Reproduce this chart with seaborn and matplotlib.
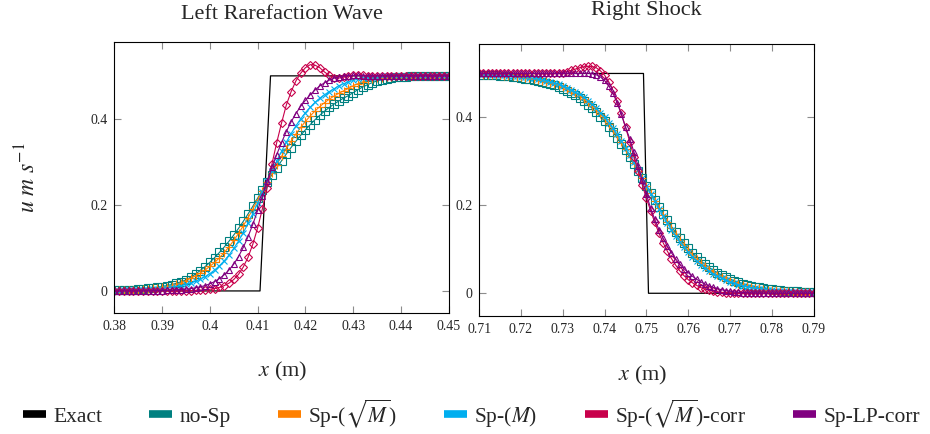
import numpy as np
import seaborn as sns
import matplotlib.pyplot as plt
from matplotlib.lines import Line2D

# grids
x_left = np.linspace(0.38, 0.45, 71)
x_right = np.linspace(0.71, 0.79, 81)

# exact solutions
left_exact_x = [0.38, 0.4105, 0.4127, 0.45]
left_exact_u = [0.0, 0.0, 0.5, 0.5]
right_exact_x = [0.71, 0.7493, 0.7505, 0.79]
right_exact_u = [0.5, 0.5, 0.0, 0.0]

# left rarefaction wave
left_nosp = [
    .0015, .0018, .0022, .0027, .0033, .0040, .0048, .0058, .0070, .0085,
    .0102, .0123, .0148, .0178, .0214, .0256, .0320, .0395, .0475, .0565,
    .0665, .0775, .0895, .1020, .1155, .1300, .1454, .1618, .1790, .1970,
    .2157, .2346, .2533, .2700, .2864, .3025, .3182, .3334, .3478, .3616,
    .3745, .3866, .3979, .4083, .4179, .4266, .4345, .4416, .4483, .4540,
    .4610, .4680, .4740, .4795, .4843, .4882, .4912, .4936, .4954, .4967,
    .4977, .4984, .4989, .4993, .4995, .4997, .4998, .4998, .4999, .4999, .4999]
left_sqrtm = [
    .0012, .0015, .0018, .0022, .0027, .0033, .0040, .0048, .0058, .0070,
    .0085, .0103, .0125, .0152, .0185, .0240, .0295, .0354, .0416, .0486,
    .0570, .0662, .0770, .0889, .1025, .1173, .1337, .1513, .1703, .1903,
    .2112, .2326, .2540, .2739, .2936, .3126, .3310, .3484, .3647, .3800,
    .3940, .4067, .4182, .4286, .4378, .4458, .4532, .4596, .4652, .4710,
    .4770, .4820, .4862, .4895, .4922, .4943, .4960, .4972, .4980, .4986,
    .4990, .4993, .4995, .4996, .4997, .4998, .4998, .4999, .4999, .4999, .4999]
left_m = [
    .0007, .0009, .0011, .0013, .0016, .0020, .0024, .0030, .0037, .0045,
    .0055, .0068, .0083, .0100, .0123, .0150, .0184, .0224, .0273, .0333,
    .0403, .0487, .0586, .0700, .0834, .0988, .1161, .1354, .1568, .1798,
    .2041, .2294, .2548, .2787, .3021, .3246, .3459, .3656, .3837, .3999,
    .4145, .4272, .4384, .4480, .4563, .4635, .4700, .4770, .4820, .4860,
    .4895, .4923, .4945, .4962, .4974, .4982, .4988, .4992, .4994, .4996,
    .4997, .4998, .4998, .4999, .4999, .4999, .5, .5, .5, .5, .5]
left_sqrtm_corr = [0.0] * 10 + [
    .0001, .0001, .0001, .0002, .0004, .0005, .0008, .0011, .0017, .0025,
    .0038, .0056, .0083, .0123, .0181, .0266, .0386, .0556, .0786, .1088,
    .1466, .1911, .2400, .295, .345, .390, .432, .463, .488, .506,
    .519, .526, .525, .519, .509, .501, .496, .495, .497, .4995,
    .501, .5015, .501] + [0.5] * 18
left_lp_corr = [
    .0001, .0001, .0001, .0001, .0002, .0002, .0003, .0004, .0005, .0007,
    .0010, .0013, .0017, .0023, .0031, .0041, .0054, .0072, .0095, .0125,
    .0165, .0218, .0287, .0375, .0486, .0622, .0800, .1012, .1262, .1550,
    .1871, .2216, .2562, .2872, .3171, .3450, .3704, .3929, .4124, .4290,
    .4431, .4560, .4670, .4765, .4840, .4900, .4945, .4978, .4998, .5008,
    .5010, .5010, .5005] + [0.5] * 18

# right shock
right_nosp = [
    .4973, .4970, .4966, .4960, .4955, .4948, .4942, .4932, .4925, .4913,
    .4899, .4885, .4873, .4855, .4835, .4815, .4790, .4758, .4730, .4688,
    .4654, .4605, .4547, .4501, .4435, .4368, .4291, .4209, .4118, .4016,
    .3909, .3792, .3669, .3536, .3396, .3249, .3096, .2940, .2779, .2615,
    .2450, .2287, .2125, .1963, .1811, .1661, .1518, .1385, .1257, .1137,
    .1026, .0923, .0829, .0742, .0662, .0589, .0524, .0466, .0413, .0366,
    .0323, .0285, .0252, .0222, .0196, .0172, .0152, .0133, .0117, .0103,
    .0091, .0080, .0070, .0062, .0054, .0048, .0042, .0037, .0032, .0028, .0025]
right_sqrtm = [
    .4979, .4976, .4973, .4968, .4964, .4958, .4952, .4945, .4937, .4928,
    .4917, .4905, .4891, .4875, .4856, .4838, .4817, .4792, .4763, .4730,
    .4689, .4648, .4598, .4545, .4486, .4418, .4344, .4261, .4169, .4070,
    .3960, .3843, .3716, .3580, .3435, .3283, .3124, .2960, .2791, .2620,
    .2448, .2275, .2106, .1938, .1779, .1623, .1477, .1338, .1206, .1087,
    .0976, .0872, .0776, .0690, .0610, .0540, .0477, .0422, .0371, .0326,
    .0285, .0250, .0219, .0191, .0167, .0146, .0128, .0112, .0098, .0085,
    .0074, .0065, .0057, .0050, .0043, .0037, .0033, .0029, .0025, .0022, .0019]
right_m = [
    .4983, .4980, .4977, .4973, .4969, .4965, .4960, .4953, .4946, .4938,
    .4928, .4917, .4905, .4890, .4876, .4856, .4836, .4811, .4783, .4753,
    .4716, .4677, .4629, .4577, .4522, .4455, .4381, .4300, .4208, .4109,
    .4000, .3880, .3751, .3612, .3465, .3310, .3145, .2977, .2801, .2625,
    .2447, .2268, .2093, .1921, .1756, .1598, .1445, .1304, .1172, .1048,
    .0935, .0831, .0736, .0652, .0576, .0507, .0446, .0390, .0341, .0299,
    .0260, .0227, .0199, .0173, .0150, .0131, .0114, .0099, .0086, .0075,
    .0065, .0057, .0049, .0043, .0037, .0032, .0028, .0024, .0021, .0018, .0016]
right_sqrtm_corr = [0.5] * 18 + [
    .5005, .501, .502, .504, .507, .510, .513, .515, .516, .516, .513, .506,
    .496, .481, .462, .437, .409, .378, .345, .311, .279, .247,
    .216, .188, .161, .137, .115, .096, .079, .064, .051, .040,
    .031, .024, .018, .013, .0095, .0068, .0048, .0033, .0022, .0014,
    .0009, .0005, .0003, .0002, .0001] + [0.0] * 16
right_lp_corr = [0.5] * 25 + [
    .5005, .5005, .4995, .497, .492,
    .484, .472, .455, .433, .407, .378, .352, .322, .290, .257,
    .225, .194, .168, .145, .125, .107, .092, .078, .066, .056,
    .047, .039, .032, .026, .021, .017, .0135, .0105, .008, .006,
    .0045, .0033, .0024, .0017, .0012, .0008, .0005, .0003, .0002, .0001] + [0.0] * 11

series_names = ['no-Sp', r'Sp-($\sqrt{M}$)', r'Sp-($M$)', r'Sp-($\sqrt{M}$)-corr', 'Sp-LP-corr']
colors = ['#008080', '#ff8000', '#00aeef', '#c8004b', '#800080']
markers = ['s', '+', 'x', 'D', '^']
msizes = [5.5, 6, 4.5, 4, 4.8]

left_ticks = [0.38, 0.39, 0.40, 0.41, 0.42, 0.43, 0.44, 0.45]
left_ticklabels = ['0.38', '0.39', '0.4', '0.41', '0.42', '0.43', '0.44', '0.45']
right_ticks = [0.71, 0.72, 0.73, 0.74, 0.75, 0.76, 0.77, 0.78, 0.79]
right_ticklabels = ['0.71', '0.72', '0.73', '0.74', '0.75', '0.76', '0.77', '0.78', '0.79']
y_ticks = [0, 0.2, 0.4]
y_ticklabels = ['0', '0.2', '0.4']

sns.set_style('ticks')
plt.rcParams['font.family'] = ['Liberation Serif', 'DejaVu Serif']
plt.rcParams['mathtext.fontset'] = 'stix'

fig = plt.figure(figsize=(9.3, 4.34), dpi=100)
ax_l = fig.add_axes([0.1229, 0.2781, 0.3596, 0.6244])
ax_r = fig.add_axes([0.5153, 0.2726, 0.3595, 0.626])


def draw_panel(ax, x, ex_x, ex_u, curves):
    sns.lineplot(x=ex_x, y=ex_u, ax=ax, color='black', linewidth=0.9, legend=False)
    for vals, c, m, ms in zip(curves, colors, markers, msizes):
        sns.lineplot(x=x, y=vals, ax=ax, color=c, linewidth=0.8, marker=m,
                     markersize=ms, markerfacecolor='none', markeredgecolor=c,
                     markeredgewidth=0.8, legend=False)
    ax.tick_params(direction='in', top=True, right=True, length=5, width=0.8,
                   color='0.55', labelsize=10, pad=5)
    for sp in ax.spines.values():
        sp.set_color('black')
        sp.set_linewidth(0.8)


draw_panel(ax_l, x_left, left_exact_x, left_exact_u,
           [left_nosp, left_sqrtm, left_m, left_sqrtm_corr, left_lp_corr])
draw_panel(ax_r, x_right, right_exact_x, right_exact_u,
           [right_nosp, right_sqrtm, right_m, right_sqrtm_corr, right_lp_corr])

ax_l.set_xlim(0.38, 0.45)
ax_l.set_ylim(-0.052, 0.578)
ax_l.set_xticks(left_ticks, left_ticklabels)
ax_l.set_yticks(y_ticks, y_ticklabels)
ax_r.set_xlim(0.71, 0.79)
ax_r.set_ylim(-0.051, 0.567)
ax_r.set_xticks(right_ticks, right_ticklabels)
ax_r.set_yticks(y_ticks, y_ticklabels)

ax_l.set_title('Left Rarefaction Wave', fontsize=16, pad=17)
ax_r.set_title('Right Shock', fontsize=16, pad=21)

ax_l.set_ylabel(r'$u\ m\ s^{-1}$', fontsize=17)
ax_l.yaxis.set_label_coords(-0.22, 0.5)
ax_l.set_xlabel(r'$x$ (m)', fontsize=16)
ax_l.xaxis.set_label_coords(0.504, -0.172)
ax_r.set_xlabel(r'$x$ (m)', fontsize=16)
ax_r.xaxis.set_label_coords(0.488, -0.178)
ax_r.set_ylabel('')

handles = [Line2D([], [], color='black', linewidth=5.5, solid_capstyle='butt')]
handles += [Line2D([], [], color=c, linewidth=5.5, solid_capstyle='butt') for c in colors]
fig.legend(handles, ['Exact'] + series_names, loc='center', bbox_to_anchor=(0.507, 0.048),
           ncol=6, frameon=False, fontsize=15.5, handlelength=1.05, handletextpad=0.35,
           columnspacing=2.2, borderaxespad=0)

fig.savefig('out.png', dpi=100)
